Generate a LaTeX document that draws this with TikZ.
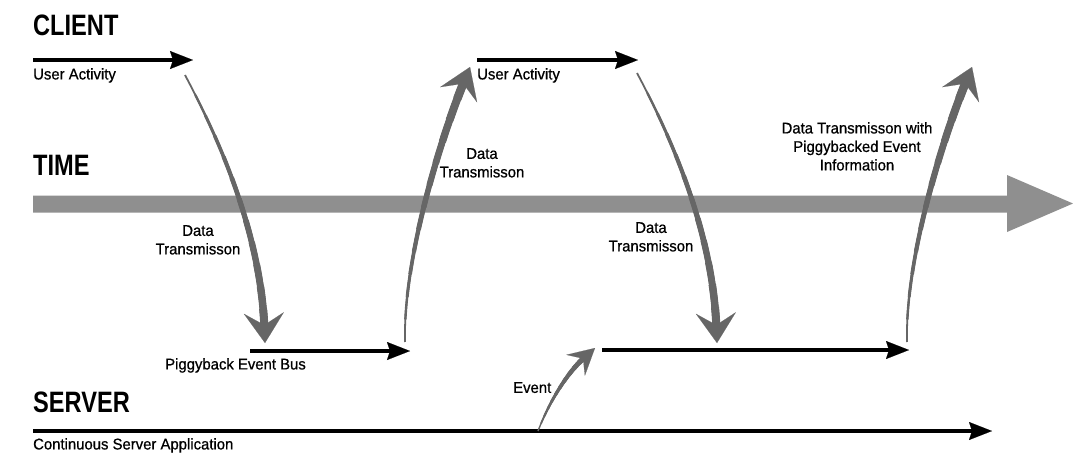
\documentclass[tikz,border=0pt]{standalone}
\usepackage{fontspec}
\usetikzlibrary{arrows.meta}
\newfontfamily\headfont[FakeStretch=0.8]{Liberation Sans}
\newfontfamily\labelfont[FakeStretch=0.96,FakeBold=0.7]{Liberation Sans}
\definecolor{bargray}{gray}{0.56}
\definecolor{arrgray}{gray}{0.40}

% tapered grey curve: stacked strokes that get wider towards the end
% #1 path, #2 approx. path length, #3 start width, #4 end width, #5 tip
\newcommand\taperarrow[5]{%
  \foreach \k in {0,...,11}{%
    \pgfmathsetmacro\tw{#3+(#4-#3)*\k/11}%
    \pgfmathsetmacro\toff{0.01+#2*\k/12.5}%
    \draw[arrgray, line width=\tw pt, dash pattern=on 3000pt off \toff pt,
          dash phase=3000pt, shorten >=14pt] #1;
  }%
  \draw[arrgray, line width=#4pt, dash pattern=on 5000pt off 5000pt,
        dash phase=5000pt, -{#5}] #1;
}

\tikzset{
  head/.style={font=\headfont\bfseries\fontsize{29.5}{30}\selectfont, inner sep=0pt, anchor=north west},
  lab/.style={font=\labelfont\fontsize{15.5}{18.5}\selectfont, inner sep=0pt},
  flow/.style={line width=4pt, -{Stealth[length=23pt,width=18pt,inset=3pt,line width=0.1pt]}},
  bighead/.tip={Stealth[length=30pt,width=40pt,inset=12pt,line width=0.1pt]},
  smallhead/.tip={Stealth[length=26pt,width=28pt,inset=10pt,line width=0.1pt]},
}

\begin{document}
\begin{tikzpicture}[x=1pt,y=-1pt]
\useasboundingbox[fill=white] (0,0) rectangle (1073,467);

% time axis
\fill[bargray] (33,195.5) -- (1007,195.5) -- (1007,175) -- (1073,203.5)
  -- (1007,232) -- (1007,212.5) -- (33,212.5) -- cycle;

% end points of the horizontal flows
\coordinate (c1s) at (33,60);   \coordinate (c1e) at (193,60);
\coordinate (c2s) at (477,60);  \coordinate (c2e) at (638,60);
\coordinate (b1s) at (250,351); \coordinate (b1e) at (410,351);
\coordinate (b2s) at (602,350); \coordinate (b2e) at (909,350);
\coordinate (svs) at (33,431);  \coordinate (sve) at (992,431);

% end and control points of the transmissions
\coordinate (d1a) at (185,75);  \coordinate (d1p) at (225,150);
\coordinate (d1q) at (261,240); \coordinate (d1b) at (265,343);
\coordinate (d2a) at (405,342); \coordinate (d2p) at (403,260);
\coordinate (d2q) at (440,140); \coordinate (d2b) at (470,67);
\coordinate (d3a) at (637,73);  \coordinate (d3p) at (677,148);
\coordinate (d3q) at (713,238); \coordinate (d3b) at (717,343);
\coordinate (d4a) at (907,342); \coordinate (d4p) at (905,260);
\coordinate (d4q) at (942,140); \coordinate (d4b) at (972,67);
\coordinate (eva) at (538,431); \coordinate (evp) at (550,400);
\coordinate (evq) at (568,372); \coordinate (evb) at (595,348);

% horizontal flows
\draw[flow] (c1s) -- (c1e);
\draw[flow] (c2s) -- (c2e);
\draw[flow] (b1s) -- (b1e);
\draw[flow] (b2s) -- (b2e);
\draw[flow] (svs) -- (sve);

% transmissions between client and server
\taperarrow{(d1a) .. controls (d1p) and (d1q) .. (d1b)}{282}{1.8}{8}{bighead}
\taperarrow{(d2a) .. controls (d2p) and (d2q) .. (d2b)}{284}{1.8}{8.5}{bighead}
\taperarrow{(d3a) .. controls (d3p) and (d3q) .. (d3b)}{282}{1.8}{8}{bighead}
\taperarrow{(d4a) .. controls (d4p) and (d4q) .. (d4b)}{284}{1.8}{8.5}{bighead}
\taperarrow{(eva) .. controls (evp) and (evq) .. (evb)}{100}{1.4}{5.5}{smallhead}

% labels
\node[head] (client) at (33,15) {CLIENT};
\node[head] (time) at (33,155) {TIME};
\node[head] (server) at (33,392) {SERVER};
\node[lab, anchor=north west] (ua1) at (33,68) {User Activity};
\node[lab, anchor=north west] (ua2) at (477,68) {User Activity};
\node[lab, anchor=north, align=center] (dt1) at (198,225) {Data\\Transmisson};
\node[lab, anchor=north, align=center] (dt2) at (482,148) {Data\\Transmisson};
\node[lab, anchor=north, align=center] (dt3) at (651,222) {Data\\Transmisson};
\node[lab, anchor=north, align=center] (dt4) at (857,122) {Data Transmisson with\\Piggybacked Event\\Information};
\node[lab, anchor=north west] (peb) at (165,358) {Piggyback Event Bus};
\node[lab, anchor=north west] (evl) at (513,382) {Event};
\node[lab, anchor=north west] (csa) at (33,438) {Continuous Server Application};
\end{tikzpicture}
\end{document}
